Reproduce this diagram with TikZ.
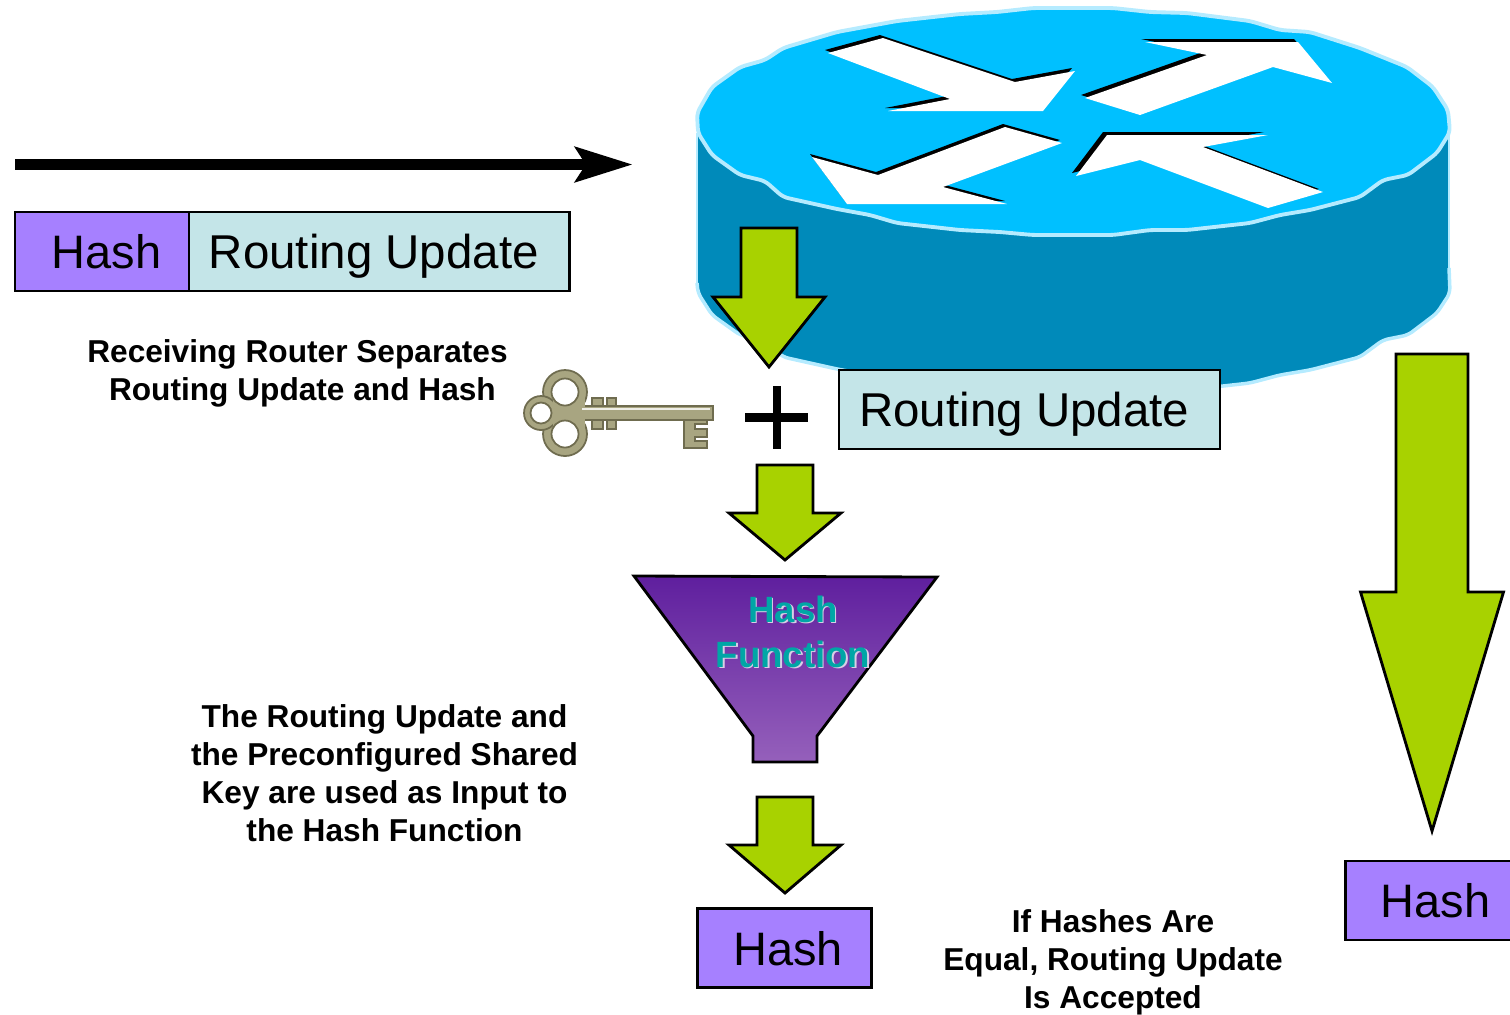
\documentclass[tikz,border=0pt]{standalone}
\usepackage{fontspec}
\setmainfont{Liberation Sans}
\usetikzlibrary{arrows.meta}
\definecolor{hashpurple}{HTML}{A680FF}
\definecolor{updateblue}{HTML}{C4E5E8}
\definecolor{arrowgreen}{HTML}{A8D200}
\definecolor{routertop}{HTML}{00C0FF}
\definecolor{routerside}{HTML}{008ABA}
\definecolor{routerrim}{HTML}{B5EBFF}
\definecolor{keyfill}{HTML}{A8A581}
\definecolor{keyline}{HTML}{6F6C4F}
\definecolor{funneltop}{HTML}{5F1F9E}
\definecolor{funnelbottom}{HTML}{9560BB}
\definecolor{funneltext}{HTML}{00A6A6}
\definecolor{funnelglow}{HTML}{D8CFE6}
\tikzset{
  hashbox/.style={draw,line width=.75pt,outer sep=0pt,fill=hashpurple,minimum width=1.74cm,minimum height=.79cm,text height=.34cm,text depth=0pt,font=\fontsize{13.35}{15}\selectfont},
  updatebox/.style={draw,line width=.75pt,outer sep=0pt,fill=updateblue,minimum width=3.805cm,minimum height=.79cm,text height=.34cm,text depth=0pt,font=\fontsize{13.5}{15}\selectfont},
  note/.style={align=center,font=\fontsize{9}{10.8}\selectfont\bfseries},
  funnelword/.style={font=\fontsize{10.4}{12}\selectfont\bfseries,text=funneltext},
  funnelshadow/.style={font=\fontsize{10.4}{12}\selectfont\bfseries,text=funnelglow},
  keypart/.style={draw=keyline,fill=keyfill,line width=.5pt}
}
\def\facefront{(1450,132) -- (1437,153) -- (1408,175) -- (1383,180) -- (1360,197) -- (1310,210) -- (1280,215) -- (1250,223) -- (1187,230) -- (1150,230) -- (1113,235) -- (1033,235) -- (1000,232) -- (960,230) -- (897,223) -- (870,215) -- (837,209) -- (783,197) -- (765,181) -- (740,175) -- (712,155) -- (698,133)}
\def\faceback{(697,113) -- (712,87) -- (740,67) -- (765,60) -- (783,48) -- (837,32) -- (897,21) -- (960,14) -- (997,12) -- (1033,8) -- (1113,8) -- (1150,12) -- (1187,13) -- (1250,21) -- (1280,30) -- (1310,32) -- (1360,48) -- (1407,67) -- (1433,87) -- (1448,110)}
\def\bodyfront{(1449,268) -- (1450,293) -- (1437,313) -- (1408,335) -- (1383,340) -- (1360,357) -- (1310,370) -- (1280,375) -- (1250,383) -- (1187,390) -- (1150,390) -- (1113,395) -- (1033,395) -- (1000,392) -- (960,390) -- (897,383) -- (870,375) -- (837,369) -- (783,357) -- (765,341) -- (740,335) -- (712,315) -- (698,293) -- (697,283)}
\begin{document}
\begin{tikzpicture}[x=.01cm,y=-.01cm]
   \useasboundingbox (0,0) rectangle (1510,1014);
   % router
   \fill[routerside,rounded corners=1.5pt] (697,120) -- \bodyfront -- cycle;
   \fill[routerside] (697,120) rectangle (1449,283);
   \draw[routerrim,line width=1pt,rounded corners=1.5pt] \bodyfront;
   \draw[routerrim,line width=.4pt] (697,133) -- (697,283) (1449,132) -- (1449,268);
   \filldraw[fill=routertop,draw=routerrim,line width=1.1pt,rounded corners=1.5pt] \faceback -- \facefront -- cycle;
   \foreach \points/\dx in {
      {(828,53) -- (883,38) -- (1015,82) -- (1075,71) -- (1043,111) -- (888,111) -- (950,99) -- cycle}/-3,
      {(1085,98) -- (1207,55) -- (1145,42) -- (1298,42) -- (1332,83) -- (1273,67) -- (1140,115) -- cycle}/-4,
      {(812,157) -- (878,175) -- (1005,127) -- (1062,143) -- (943,187) -- (1007,204) -- (847,204) -- cycle}/-2,
      {(1076,176) -- (1107,135) -- (1268,135) -- (1203,147) -- (1323,192) -- (1268,208) -- (1140,160) -- cycle}/-4}
   {
       \fill[black,xshift=\dx*.01cm,yshift=.03cm] \points;
       \fill[white] \points;
   }
   % moving update
   \coordinate (wirestart) at (15,164.5);
   \coordinate (wireend) at (633,164.5);
   \draw[line width=3.4pt,-{Stealth[length=.57cm,width=.34cm,inset=.1cm]}] (wirestart)--(wireend);
   \node[hashbox] (senthash) at (102,251.5){\hspace*{2.6pt}Hash};
   \node[updatebox,anchor=west] (sentupdate) at (senthash.east){Routing Update\hspace*{3.2pt}};
   \node[updatebox] (keptupdate) at (1029.5,409.5){Routing Update\hspace*{3pt}};
   \node[hashbox] (madehash) at (784.5,948){\hspace*{2pt}Hash};
   \node[hashbox] (senthashcopy) at (1432.5,900.5){\hspace*{1.7pt}Hash};
   % block arrows
   \foreach \x/\ytop/\yneck/\ytip/\shaft/\head in {769/228/297/367/28/56, 785/465/513/560/28/56, 785/797/845/893/28/56, 1432/354/592/831/36/71.5}
   {
       \filldraw[fill=arrowgreen,draw=black,line width=.8pt,line join=miter]
         (\x-\shaft,\ytop) -- (\x+\shaft,\ytop) -- (\x+\shaft,\yneck) -- (\x+\head,\yneck)
         -- (\x,\ytip) -- (\x-\head,\yneck) -- (\x-\shaft,\yneck) -- cycle;
   }
   % key
   \draw[keypart] (592,398) rectangle (603,429);
   \draw[keypart] (607,398) rectangle (616,429);
   \draw[keypart] (575,406) rectangle (713,420);
   \draw[keypart] (684,420) -- (707,420) -- (707,424) -- (695,424) -- (695,429) -- (707,429) -- (707,437) -- (695,437) -- (695,441) -- (707,441) -- (707,448) -- (684,448) -- cycle;
   \foreach \x/\y/\r in {565/392/22, 565/434/22, 541/413/17}
   {
       \draw[keypart] (\x,\y) circle (\r);
   }
   \fill[keyfill] (553,398) rectangle (585,428);
   \foreach \x/\y/\r in {565/392/13.5, 565/434/13.5, 541/413/10.5}
   {
       \filldraw[fill=white,draw=keyline,line width=.5pt] (\x,\y) circle (\r);
   }
   \draw[white!80!keyfill,line width=.35pt] (582,409)--(710,409);
   % plus
   \coordinate (plustop) at (777,386);
   \coordinate (plusbottom) at (777,449);
   \coordinate (plusleft) at (745,417.5);
   \coordinate (plusright) at (808,417.5);
   \draw[line width=2.3pt] (plustop)--(plusbottom) (plusleft)--(plusright);
   % funnel
   \draw[top color=funneltop,bottom color=funnelbottom,line width=.8pt] (634,576) -- (937,577) -- (817,736) -- (817,762) -- (753,762) -- (753,736) -- cycle;
   \foreach \y/\ytext in {609/Hash, 654/Function}
   {
       \node[funnelshadow] at (794.5,\y+1.5){\ytext};
       \node[funnelword] at (793,\y){\ytext};
   }
   % notes
   \node[note] (splitnote) at (297.5,373){Receiving Router Separates\\\hspace*{2.8pt}Routing Update and Hash};
   \node[note] (inputnote) at (384.5,773){The Routing Update and\\the Preconfigured Shared\\Key are used as Input to\\the Hash Function};
   \node[note] (equalnote) at (1113,962.5){If Hashes Are\\Equal, Routing Update\\Is Accepted};
\end{tikzpicture}
\end{document}
